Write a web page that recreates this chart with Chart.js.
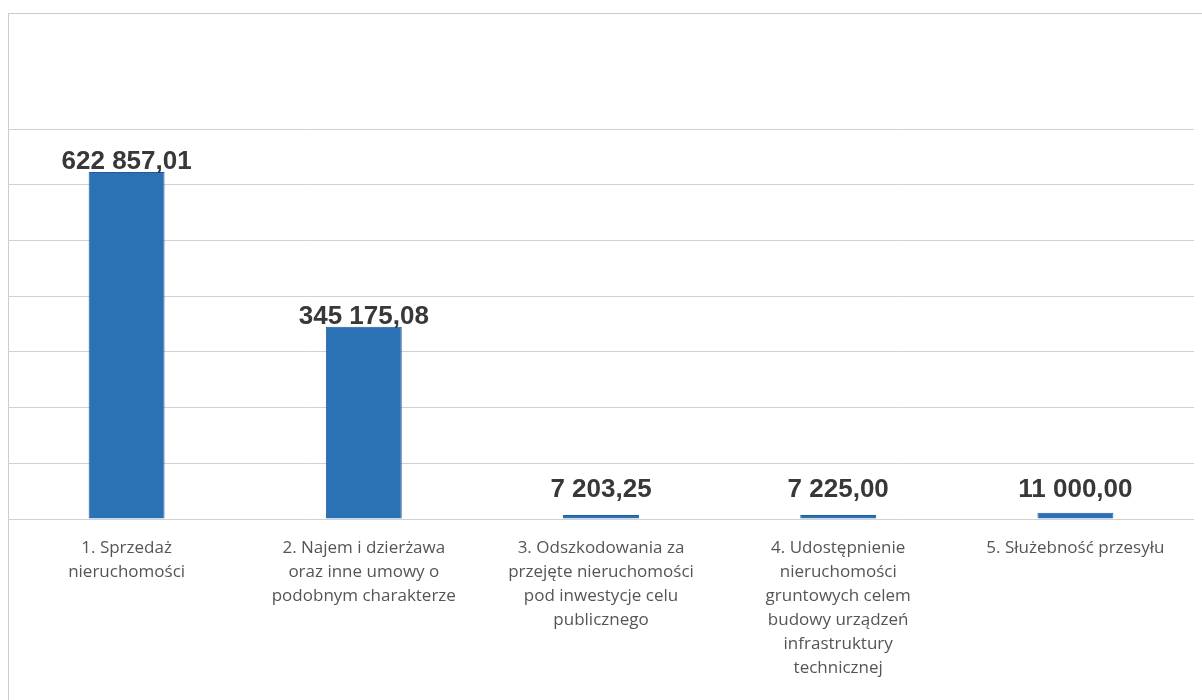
<!DOCTYPE html>
<html>
<head>
<meta charset="utf-8">
<script src="https://cdn.jsdelivr.net/npm/chart.js@4.4.1/dist/chart.umd.min.js"></script>
<style>
  html, body { margin: 0; padding: 0; background: #ffffff; }
  #wrap { position: relative; width: 1202px; height: 700px; overflow: hidden; }
  #frame { position: absolute; left: 8px; top: 13px; right: 0; bottom: 0;
           border-left: 1px solid #c9cbcf; border-top: 1px solid #c9cbcf; }
  canvas { position: absolute; left: 0; top: 0; }
</style>
</head>
<body>
<div id="wrap">
  <div id="frame"></div>
  <canvas id="myChart" width="1202" height="700"></canvas>
</div>
<script>
  // categories (multi-line labels as in the original)
  const categories = [
    ['1. Sprzedaż', 'nieruchomości'],
    ['2. Najem i dzierżawa', 'oraz inne umowy o', 'podobnym charakterze'],
    ['3. Odszkodowania za', 'przejęte nieruchomości', 'pod inwestycje celu', 'publicznego'],
    ['4. Udostępnienie', 'nieruchomości', 'gruntowych celem', 'budowy urządzeń', 'infrastruktury', 'technicznej'],
    ['5. Służebność przesyłu']
  ];
  const values = [622857.01, 345175.08, 7203.25, 7225.00, 11000.00];
  const valueLabels = ['622 857,01', '345 175,08', '7 203,25', '7 225,00', '11 000,00'];

  // value labels above bars
  const valueLabelPlugin = {
    id: 'valueLabels',
    afterDatasetsDraw(chart) {
      const ctx = chart.ctx;
      const meta = chart.getDatasetMeta(0);
      const base = chart.scales.y.getPixelForValue(0);
      ctx.save();
      ctx.font = 'bold 26px "Liberation Sans", Arial, sans-serif';
      ctx.fillStyle = '#383838';
      ctx.textAlign = 'center';
      ctx.textBaseline = 'alphabetic';
      meta.data.forEach(function (bar, i) {
        const y = Math.min(bar.y - 3, base - 22);
        ctx.fillText(valueLabels[i], bar.x, y);
      });
      ctx.restore();
    }
  };

  const data = {
    labels: categories,
    datasets: [{
      data: values,
      backgroundColor: '#2a71b6',
      borderColor: '#1f5c99',
      borderWidth: 1,
      barPercentage: 1,
      categoryPercentage: 0.32
    }]
  };

  const config = {
    type: 'bar',
    data: data,
    options: {
      responsive: false,
      animation: false,
      layout: {
        padding: { left: 8, right: 8, top: 129, bottom: 0 }
      },
      scales: {
        y: {
          display: true,
          min: 0,
          max: 700000,
          ticks: { display: false, stepSize: 100000 },
          grid: { color: '#cfd1d4', drawTicks: false },
          border: { display: false },
          afterFit: function (scale) { scale.width = 0; }
        },
        x: {
          grid: { display: false, drawTicks: false },
          border: { display: false },
          ticks: {
            color: '#555555',
            padding: 17,
            maxRotation: 0,
            autoSkip: false,
            font: { family: '"Open Sans", "Noto Sans", sans-serif', size: 17, lineHeight: '24px' }
          },
          afterFit: function (scale) { scale.height = 181; }
        }
      },
      plugins: {
        legend: { display: false },
        tooltip: { enabled: false }
      }
    },
    plugins: [valueLabelPlugin]
  };

  const myChart = new Chart(document.getElementById('myChart'), config);
</script>
</body>
</html>
